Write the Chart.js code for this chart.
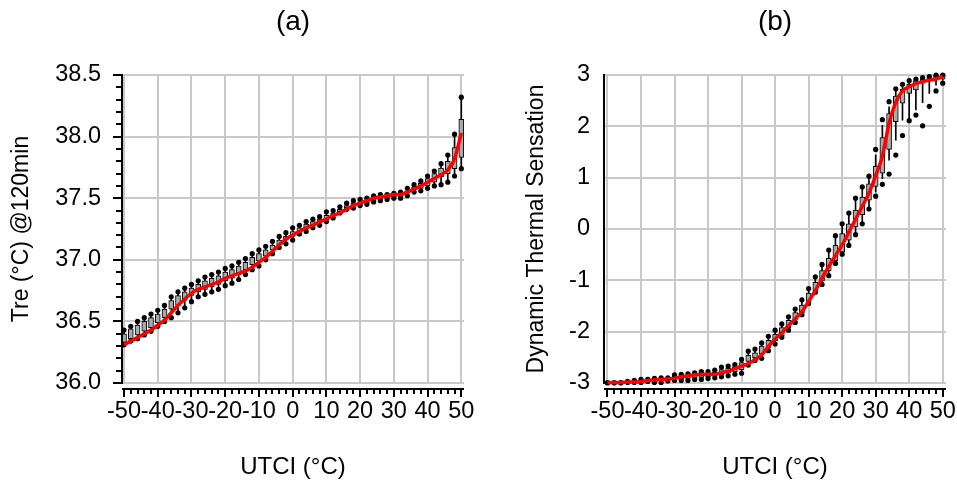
<!DOCTYPE html>
<html>
<head>
<meta charset="utf-8">
<script src="https://cdn.jsdelivr.net/npm/chart.js@4.4.1/dist/chart.umd.min.js"></script>
<style>
  html, body { margin: 0; padding: 0; background: #fff; overflow: hidden; }
  #wrap { position: relative; width: 957px; height: 486px; }
  canvas { position: absolute; top: 0; }
  #cA { left: 0; }
  #cB { left: 478px; }
</style>
</head>
<body>
<div id="wrap">
  <canvas id="cA" width="478" height="486"></canvas>
  <canvas id="cB" width="479" height="486"></canvas>
</div>
<script>
// UTCI classes (°C), one box per 2 °C step
const utci = [-50,-48,-46,-44,-42,-40,-38,-36,-34,-32,
              -30,-28,-26,-24,-22,-20,-18,-16,-14,-12,
              -10,-8,-6,-4,-2,0,2,4,6,8,
              10,12,14,16,18,20,22,24,26,28,
              30,32,34,36,38,40,42,44,46,48,
              50];
const utciTicks = [-50,-40,-30,-20,-10,0,10,20,30,40,50];

// (a) rectal temperature after 120 min
const treHi = [36.43,36.46,36.50,36.53,36.56,36.59,36.63,36.70,36.74,36.77,
               36.80,36.83,36.86,36.88,36.90,36.93,36.95,36.98,37.01,37.05,
               37.08,37.11,37.15,37.19,37.22,37.26,37.28,37.31,37.33,37.35,
               37.39,37.40,37.43,37.46,37.48,37.49,37.50,37.52,37.53,37.53,
               37.54,37.55,37.58,37.61,37.64,37.68,37.72,37.78,37.85,38.02,
               38.32];
const treQ3 = [36.40,36.44,36.47,36.50,36.53,36.56,36.60,36.67,36.71,36.74,
               36.77,36.80,36.83,36.85,36.87,36.90,36.92,36.95,36.98,37.02,
               37.05,37.08,37.12,37.16,37.19,37.23,37.26,37.29,37.31,37.33,
               37.36,37.38,37.41,37.44,37.46,37.47,37.48,37.50,37.51,37.52,
               37.53,37.53,37.56,37.59,37.62,37.66,37.70,37.745,37.80,37.91,
               38.14];
const treQ1 = [36.33,36.36,36.39,36.42,36.45,36.49,36.53,36.60,36.63,36.67,
               36.71,36.74,36.76,36.78,36.80,36.83,36.85,36.88,36.92,36.96,
               36.99,37.03,37.08,37.12,37.16,37.19,37.23,37.25,37.28,37.30,
               37.33,37.36,37.39,37.42,37.44,37.45,37.46,37.48,37.49,37.50,
               37.51,37.51,37.54,37.57,37.58,37.60,37.63,37.675,37.70,37.74,
               37.83];
const treLo = [36.31,36.34,36.36,36.39,36.42,36.46,36.50,36.53,36.57,36.61,
               36.66,36.70,36.72,36.74,36.76,36.79,36.81,36.84,36.88,36.92,
               36.95,37.00,37.05,37.10,37.13,37.16,37.21,37.23,37.26,37.28,
               37.31,37.34,37.38,37.41,37.42,37.44,37.45,37.47,37.48,37.49,
               37.50,37.50,37.52,37.55,37.56,37.58,37.60,37.61,37.63,37.68,
               37.74];
const treFit = [36.31,36.34,36.37,36.40,36.43,36.47,36.51,36.57,36.63,36.68,
                36.73,36.76,36.78,36.80,36.82,36.85,36.87,36.89,36.91,36.94,
                36.98,37.02,37.07,37.12,37.17,37.20,37.23,37.26,37.28,37.31,
                37.33,37.36,37.38,37.41,37.44,37.46,37.48,37.50,37.51,37.52,
                37.53,37.53,37.55,37.575,37.60,37.63,37.66,37.69,37.73,37.82,
                38.03];
const treTicks = [36.0,36.5,37.0,37.5,38.0,38.5];

// (b) dynamic thermal sensation
const dtsHi = [-2.99,-2.99,-2.99,-2.97,-2.95,-2.93,-2.93,-2.91,-2.90,-2.90,
               -2.84,-2.83,-2.82,-2.80,-2.78,-2.78,-2.75,-2.69,-2.67,-2.64,
               -2.54,-2.38,-2.34,-2.22,-2.09,-1.97,-1.85,-1.71,-1.56,-1.38,
               -1.16,-0.93,-0.69,-0.41,-0.13,0.10,0.31,0.60,0.82,1.03,
               1.55,2.13,2.48,2.73,2.82,2.89,2.92,2.95,2.97,3.00,
               3.00];
const dtsWhiskHi = [-2.99,-2.99,-2.99,-2.97,-2.95,-2.93,-2.93,-2.91,-2.90,-2.90,
                    -2.84,-2.83,-2.82,-2.80,-2.78,-2.78,-2.75,-2.69,-2.67,-2.64,
                    -2.54,-2.38,-2.34,-2.22,-2.09,-1.97,-1.85,-1.71,-1.56,-1.38,
                    -1.16,-0.93,-0.69,-0.41,-0.13,0.10,0.31,0.60,0.82,1.03,
                    1.44,2.02,2.38,2.73,2.82,2.89,2.92,2.95,2.97,3.00,
                    3.00];
const dtsQ3 = [-2.99,-2.99,-2.99,-2.975,-2.96,-2.95,-2.94,-2.93,-2.92,-2.91,
               -2.87,-2.86,-2.85,-2.83,-2.81,-2.81,-2.79,-2.74,-2.71,-2.68,
               -2.60,-2.46,-2.41,-2.28,-2.17,-2.05,-1.92,-1.78,-1.63,-1.48,
               -1.25,-1.04,-0.81,-0.57,-0.32,-0.09,0.10,0.37,0.62,0.88,
               1.22,1.78,2.25,2.59,2.72,2.82,2.89,2.93,2.95,2.99,
               3.00];
const dtsQ1 = [-2.997,-2.997,-2.997,-2.985,-2.98,-2.97,-2.96,-2.96,-2.96,-2.94,
               -2.92,-2.92,-2.91,-2.90,-2.89,-2.88,-2.86,-2.84,-2.81,-2.78,
               -2.74,-2.58,-2.51,-2.44,-2.31,-2.18,-2.08,-1.92,-1.76,-1.63,
               -1.41,-1.20,-1.01,-0.81,-0.62,-0.45,-0.22,0.04,0.28,0.56,
               0.83,1.09,1.55,2.09,2.45,2.64,2.71,2.84,2.89,2.93,
               2.92];
const dtsWhiskLo = [-3.00,-3.00,-3.00,-2.99,-2.99,-2.99,-2.97,-2.99,-2.99,-2.96,
                    -2.95,-2.95,-2.95,-2.93,-2.93,-2.91,-2.90,-2.88,-2.86,-2.83,
                    -2.81,-2.65,-2.56,-2.52,-2.37,-2.24,-2.11,-1.97,-1.82,-1.67,
                    -1.45,-1.23,-1.08,-0.91,-0.67,-0.49,-0.32,-0.11,0.10,0.39,
                    0.72,0.98,1.34,1.73,2.12,2.15,2.32,2.46,2.64,2.80,
                    2.90];
const dtsLo = [-3.00,-3.00,-3.00,-2.99,-2.99,-2.99,-2.97,-2.99,-2.99,-2.96,
               -2.95,-2.95,-2.95,-2.93,-2.93,-2.91,-2.90,-2.88,-2.86,-2.83,
               -2.81,-2.65,-2.56,-2.52,-2.37,-2.24,-2.11,-1.97,-1.82,-1.67,
               -1.45,-1.23,-1.08,-0.91,-0.67,-0.49,-0.32,-0.11,0.10,0.39,
               0.64,0.87,1.07,1.44,1.82,2.11,2.22,2.01,2.39,2.69,
               2.84];
const dtsFit = [-2.99,-2.99,-2.99,-2.98,-2.98,-2.97,-2.95,-2.94,-2.93,-2.92,
                -2.91,-2.88,-2.86,-2.84,-2.83,-2.83,-2.83,-2.80,-2.77,-2.72,
                -2.67,-2.62,-2.55,-2.45,-2.29,-2.14,-2.02,-1.88,-1.75,-1.61,
                -1.41,-1.20,-0.96,-0.73,-0.52,-0.31,-0.06,0.19,0.44,0.70,
                1.04,1.42,2.06,2.47,2.69,2.77,2.83,2.87,2.90,2.92,
                2.98];
const dtsTicks = [-3,-2,-1,0,1,2,3];

const FONT = "'Liberation Sans', Arial, sans-serif";
Chart.defaults.font.family = FONT;
Chart.defaults.color = '#000';

// Offset axis lines with major/minor tick marks, drawn from the chart's scales
const axisMarks = {
  id: 'axisMarks',
  afterDraw(chart, args, o) {
    const { ctx, chartArea: a, scales: { x, y } } = chart;
    ctx.save();
    ctx.strokeStyle = '#000';
    ctx.lineWidth = 2;
    // vertical axis
    const ax = a.left;
    ctx.beginPath();
    ctx.moveTo(ax, a.top - 1);
    ctx.lineTo(ax, a.bottom + 1);
    ctx.stroke();
    if (o.yMinor) {
      const n = Math.round((y.max - y.min) / o.yMinor);
      ctx.beginPath();
      for (let i = 0; i <= n; i++) {
        const py = Math.round(y.getPixelForValue(y.min + i * o.yMinor));
        const len = (i % o.yPerMajor === 0) ? 9 : 6;
        ctx.moveTo(ax, py);
        ctx.lineTo(ax - len, py);
      }
      ctx.stroke();
    }
    // horizontal axis, set a little below the plot
    const ay = a.bottom + 6;
    ctx.beginPath();
    ctx.moveTo(a.left, ay);
    ctx.lineTo(a.right, ay);
    ctx.stroke();
    const first = utciTicks[0], last = utciTicks[utciTicks.length - 1];
    const n = Math.round((last - first) / o.xMinor);
    ctx.beginPath();
    for (let i = 0; i <= n; i++) {
      const px = Math.round(x.getPixelForValue(first + i * o.xMinor));
      const len = (i % o.xPerMajor === 0) ? 8 : 5;
      ctx.moveTo(px, ay);
      ctx.lineTo(px, ay + len);
    }
    ctx.stroke();
    ctx.restore();
  }
};

// Panel heading centred over the plot area
const heading = {
  id: 'heading',
  afterDraw(chart, args, o) {
    const { ctx, chartArea: a } = chart;
    ctx.save();
    ctx.fillStyle = '#000';
    ctx.font = o.size + 'px ' + FONT;
    ctx.textAlign = 'center';
    ctx.textBaseline = 'middle';
    ctx.fillText(o.text, (a.left + a.right) / 2, o.y);
    ctx.restore();
  }
};

function panel(canvas, p) {
  const pts = arr => utci.map((x, i) => ({ x, y: arr[i] }));
  const ranges = (lo, hi) => utci.map((x, i) => ({ x, y: [lo[i], hi[i]] }));
  return new Chart(canvas, {
    type: 'bar',
    data: {
      datasets: [
        { type: 'line', data: pts(p.fit), borderColor: '#ff0000', borderWidth: 3.5,
          pointRadius: 0, cubicInterpolationMode: 'monotone', fill: false, order: 0, clip: false },
        { type: 'scatter', data: pts(p.hi), backgroundColor: '#000', borderWidth: 0,
          pointRadius: 2.6, order: 1, clip: false },
        { type: 'scatter', data: pts(p.lo), backgroundColor: '#000', borderWidth: 0,
          pointRadius: 2.6, order: 1, clip: false },
        { type: 'bar', data: ranges(p.q1, p.q3), backgroundColor: '#a9a9a9', borderColor: '#000',
          borderWidth: 1, borderSkipped: false, barThickness: 5, grouped: false, order: 2 },
        { type: 'bar', data: ranges(p.wLo, p.wHi), backgroundColor: '#000',
          borderWidth: 0, barThickness: 1, grouped: false, order: 3 }
      ]
    },
    options: {
      responsive: false,
      animation: false,
      layout: { padding: { left: 0, right: p.padRight, top: 75, bottom: 0 } },
      plugins: {
        legend: { display: false },
        tooltip: { enabled: false },
        title: { display: false },
        heading: { text: p.title, size: 28, y: 22 },
        axisMarks: { xMinor: 2, xPerMajor: 5, yMinor: p.yMinor, yPerMajor: 5 }
      },
      scales: {
        x: {
          type: 'linear', min: p.xMin, max: p.xMax, offset: false,
          afterBuildTicks: s => { s.ticks = utciTicks.map(v => ({ value: v })); },
          afterFit: s => { s.height = 103; s.paddingLeft = 0; s.paddingRight = 0; },
          grid: { color: '#c8c8c8', lineWidth: 2, drawTicks: false, offset: false },
          border: { display: false },
          ticks: { autoSkip: false, maxRotation: 0, minRotation: 0, padding: 14,
                   font: { size: 23.5 }, color: '#000', callback: v => String(v) },
          title: { display: true, text: 'UTCI (°C)', font: { size: 24 }, color: '#000',
                   padding: { top: 0, bottom: 4.5 } }
        },
        y: {
          type: 'linear', min: p.yTicks[0], max: p.yTicks[p.yTicks.length - 1], beginAtZero: false,
          afterBuildTicks: s => { s.ticks = p.yTicks.map(v => ({ value: v })); },
          afterFit: s => { s.width = p.yWidth; s.paddingTop = 0; s.paddingBottom = 0; },
          grid: { color: '#c8c8c8', lineWidth: 2, drawTicks: false },
          border: { display: false },
          ticks: { padding: p.yPad, font: { size: 23.5 }, color: '#000', callback: p.yFmt },
          title: { display: true, text: p.yTitle, font: { size: 23 }, color: '#000',
                   padding: { top: p.yTitlePad, bottom: 0 } }
        }
      }
    },
    plugins: [axisMarks, heading]
  });
}

panel(document.getElementById('cA'), {
  title: '(a)', yTitle: 'Tre (°C) @120min',
  fit: treFit, hi: treHi, lo: treLo, q1: treQ1, q3: treQ3, wLo: treLo, wHi: treHi,
  yTicks: treTicks, yFmt: v => Number(v).toFixed(1), yMinor: 0.1,
  xMin: -50.6, xMax: 50.8, yWidth: 122, padRight: 14, yPad: 21, yTitlePad: 8
});

panel(document.getElementById('cB'), {
  title: '(b)', yTitle: 'Dynamic Thermal Sensation',
  fit: dtsFit, hi: dtsHi, lo: dtsLo, q1: dtsQ1, q3: dtsQ3, wLo: dtsWhiskLo, wHi: dtsWhiskHi,
  yTicks: dtsTicks, yFmt: v => String(v), yMinor: null,
  xMin: -51.04, xMax: 50.98, yWidth: 126, padRight: 11, yPad: 14, yTitlePad: 45
});
</script>
</body>
</html>
